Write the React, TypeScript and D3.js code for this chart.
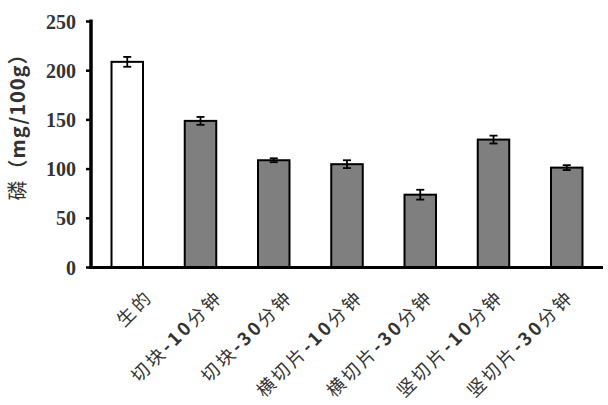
import React from "react";
import * as d3 from "d3";

const categories = ["生的", "切块-10分钟", "切块-30分钟", "横切片-10分钟", "横切片-30分钟", "竖切片-10分钟", "竖切片-30分钟"];
const phosphorus = [209, 149, 109, 105, 74, 130, 101.5];
const errors = [5, 4, 2, 4, 5, 4, 2.5];
const yTicks = [0, 50, 100, 150, 200, 250];

const width = 608;
const height = 405;

// split a label so the digits can be bold like in the original
function labelParts(s: string) {
  const m = s.match(/^(.*?)(-\d+)(.*)$/);
  if (!m) return [{ t: s, bold: false }];
  return [
    { t: m[1], bold: false },
    { t: m[2], bold: true },
    { t: m[3], bold: false },
  ];
}

export default function App() {
  const x = d3.scaleBand<string>().domain(categories).range([91, 603]).paddingInner(0.57).paddingOuter(0.28);
  const y = d3.scaleLinear().domain([0, 250]).range([267.5, 21.5]);
  // labels sit a little tighter than the bars in the source image
  const labelX = d3.scalePoint<string>().domain(categories).range([154, 575]);

  return (
    <svg width={width} height={height} style={{ position: "absolute", left: 0, top: 0, background: "#fff" }}>
      {/* bars */}
      {categories.map((c, i) => (
        <rect
          key={c}
          x={x(c)}
          y={y(phosphorus[i])}
          width={x.bandwidth()}
          height={y(0) - y(phosphorus[i])}
          fill={i === 0 ? "#ffffff" : "#7f7f7f"}
          stroke="#000"
          strokeWidth={2}
        />
      ))}

      {/* error bars */}
      {categories.map((c, i) => {
        const cx = (x(c) as number) + x.bandwidth() / 2;
        const top = y(phosphorus[i] + errors[i]);
        const bot = y(phosphorus[i] - errors[i]);
        return (
          <g key={"e" + c} stroke="#000" strokeWidth={1.8}>
            <line x1={cx} x2={cx} y1={top} y2={bot} />
            <line x1={cx - 4} x2={cx + 4} y1={top} y2={top} />
            <line x1={cx - 4} x2={cx + 4} y1={bot} y2={bot} />
          </g>
        );
      })}

      {/* axes */}
      <line x1={91} x2={91} y1={y(250) - 2} y2={y(0)} stroke="#000" strokeWidth={3.5} />
      <line x1={89} x2={603} y1={y(0)} y2={y(0)} stroke="#000" strokeWidth={3} />
      {yTicks.map((t) => (
        <g key={t}>
          <line x1={86} x2={91} y1={y(t)} y2={y(t)} stroke="#000" strokeWidth={2.5} />
          <text
            x={76}
            y={y(t)}
            textAnchor="end"
            dominantBaseline="central"
            fontFamily="'Liberation Serif', 'DejaVu Serif', serif"
            fontWeight="bold"
            fontSize={20}
            fill="#333"
          >
            {t}
          </text>
        </g>
      ))}

      {/* category labels */}
      {categories.map((c) => (
        <text
          key={"l" + c}
          transform={`translate(${labelX(c)},${298}) rotate(-45)`}
          textAnchor="end"
          fontFamily="'Noto Sans CJK SC', 'Noto Sans', sans-serif"
          fontSize={18}
          letterSpacing={3}
          fill="#333"
        >
          {labelParts(c).map((p, k) => (
            <tspan key={k} fontWeight={p.bold ? "bold" : "normal"}>
              {p.t}
            </tspan>
          ))}
        </text>
      ))}

      {/* y title */}
      <text
        transform={`translate(25,${122}) rotate(-90)`}
        textAnchor="middle"
        fontFamily="'Noto Sans CJK SC', 'Noto Sans', sans-serif"
        fontWeight="bold"
        fontSize={20}
        letterSpacing={1}
        fill="#333"
      >
        <tspan fontWeight="normal">磷</tspan>（mg/100g）
      </text>
    </svg>
  );
}
